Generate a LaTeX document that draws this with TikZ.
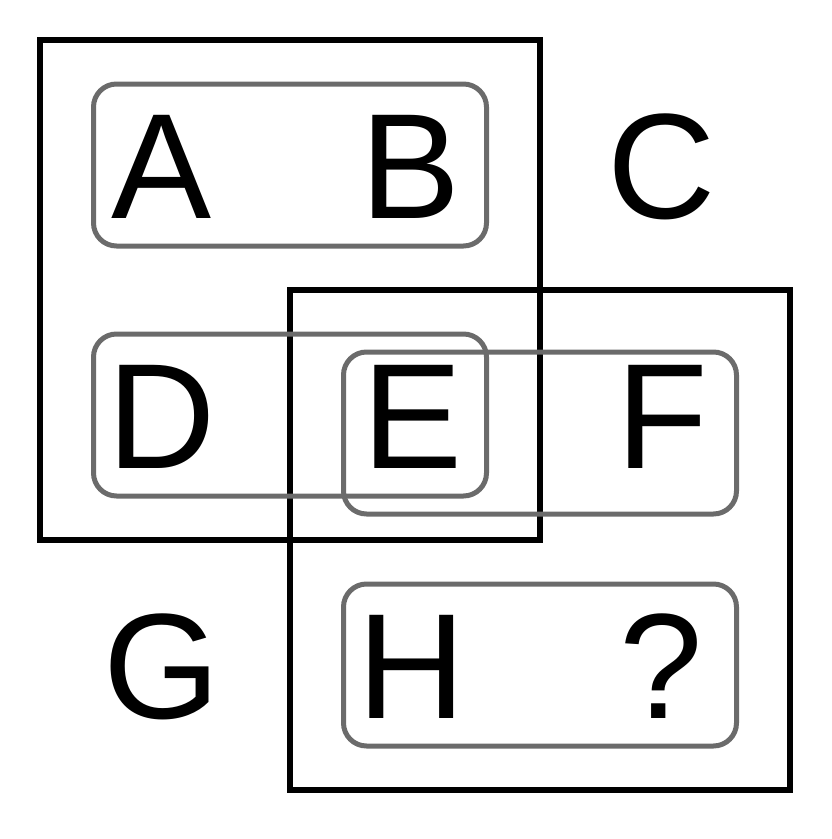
\documentclass[tikz,border=0pt]{standalone}
\usepackage{fontspec}
\setmainfont{Liberation Sans}
\begin{document}
\begin{tikzpicture}[x=1pt,y=-1pt,
  sq/.style={draw=black,line width=5.5pt,minimum width=500pt,minimum height=500pt,inner sep=0pt,outer sep=0pt},
  grp/.style={draw=gray6,line width=5pt,rounded corners=23pt,minimum width=393pt,minimum height=162pt,inner sep=0pt,outer sep=0pt},
  lt/.style={anchor=base,inner sep=0pt,font=\fontsize{150}{150}\selectfont}]
\definecolor{gray6}{HTML}{6B6B6B}
\useasboundingbox (0,0) rectangle (831,839);
\node[sq] (s1) at (290,290) {};
\node[sq] (s2) at (540,540) {};
\node[grp] (ab) at (290,165) {};
\node[grp] (de) at (290,415) {};
\node[grp] (ef) at (540,433) {};
\node[grp] (hq) at (540,665) {};
\node[lt] (A) at (162,218) {A};
\node[lt] (B) at (411,218) {B};
\node[lt] (C) at (662,218) {C};
\node[lt] (D) at (162,468) {D};
\node[lt] (E) at (413,468) {E};
\node[lt] (F) at (662,468) {F};
\node[lt] (G) at (162,718) {G};
\node[lt] (H) at (412,718) {H};
\node[lt] (Q) at (661,718) {?};
\end{tikzpicture}
\end{document}
